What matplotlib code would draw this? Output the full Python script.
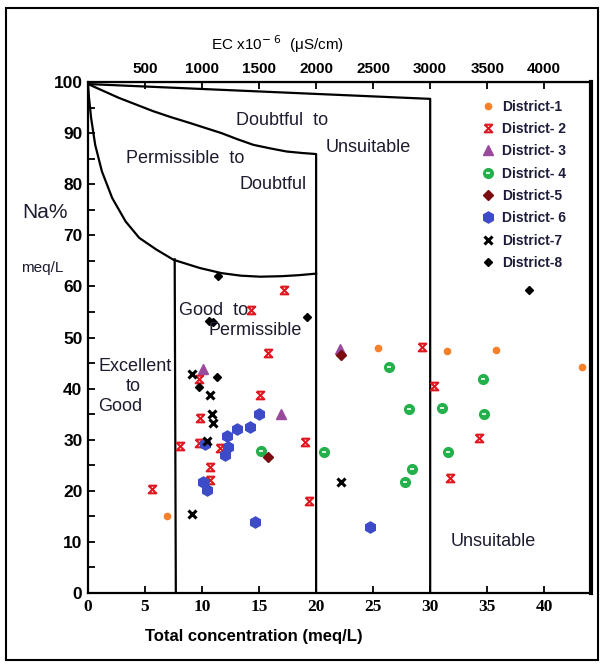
import matplotlib.pyplot as plt
from matplotlib.path import Path
from matplotlib.patches import Rectangle

# total concentration (meq/L) and Na% for each district
d1_x = [6.9, 25.4, 31.5, 35.8, 43.3]
d1_y = [15.0, 48.0, 47.4, 47.6, 44.3]
d2_x = [5.6, 17.2, 14.3, 15.8, 15.1, 9.7, 9.8, 8.1, 9.7, 11.6, 10.7, 10.7, 19.0, 19.4, 29.3, 30.3, 34.3, 31.7]
d2_y = [20.4, 59.2, 55.4, 46.9, 38.7, 41.8, 34.2, 28.8, 29.3, 28.3, 24.6, 22.1, 29.6, 18.1, 48.1, 40.6, 30.3, 22.6]
d3_x = [10.1, 16.9, 22.1]
d3_y = [43.8, 35.0, 47.8]
d4_x = [15.2, 20.7, 26.4, 28.1, 31.0, 34.6, 34.7, 31.6, 28.4, 27.8]
d4_y = [27.8, 27.5, 44.3, 36.1, 36.3, 41.9, 35.0, 27.5, 24.3, 21.7]
d5_x = [15.8, 22.2]
d5_y = [26.7, 46.6]
d6_x = [15.0, 14.2, 13.1, 12.2, 12.3, 12.0, 10.3, 10.1, 10.4, 14.6, 24.7]
d6_y = [35.0, 32.5, 32.0, 30.8, 28.6, 27.1, 29.1, 21.8, 20.2, 13.8, 12.9]
d7_x = [9.1, 10.7, 10.9, 11.0, 10.4, 9.1, 22.2]
d7_y = [42.8, 38.7, 35.0, 33.2, 29.7, 15.4, 21.7]
d8_x = [11.4, 10.6, 11.0, 19.2, 11.3, 9.7, 38.7]
d8_y = [62.0, 53.3, 53.0, 54.0, 42.3, 40.4, 59.3]

# Wilcox class boundaries
outer_x = [0, 30, 30]
outer_y = [99.6, 96.7, 0]
mid_x = [0, 1.2, 2.7, 4.2, 5.7, 7.3, 8.9, 10.3, 11.7, 13.1, 14.5, 16.0, 17.4, 18.8, 20, 20]
mid_y = [99.6, 98.4, 96.9, 95.6, 94.3, 93.1, 92.0, 91.0, 90.0, 88.8, 87.7, 87.0, 86.4, 86.1, 85.9, 0]
inner_x = [0, 0.09, 0.27, 0.63, 1.22, 2.12, 3.3, 4.49, 6.0, 7.5, 9.8, 11.7, 13.4, 15.1, 17.0, 18.5, 20]
inner_y = [99.6, 96.9, 93.0, 87.7, 82.5, 77.3, 72.7, 69.5, 67.2, 65.2, 63.6, 62.6, 62.1, 61.9, 62.0, 62.2, 62.5]
left_x = [7.6, 7.7]
left_y = [65.3, 0]

x_ticks = [0, 5, 10, 15, 20, 25, 30, 35, 40]
ec_ticks = [500, 1000, 1500, 2000, 2500, 3000, 3500, 4000]
y_ticks = [0, 10, 20, 30, 40, 50, 60, 70, 80, 90, 100]

fig = plt.figure(figsize=(6.03, 6.64), dpi=100)
ax = fig.add_axes([88 / 603, 1 - 593 / 664, 503 / 603, 511 / 664])
ax.set_xlim(0, 44.1)
ax.set_ylim(0, 100)

for xs, ys in [(outer_x, outer_y), (mid_x, mid_y), (inner_x, inner_y), (left_x, left_y)]:
    ax.plot(xs, ys, color="black", lw=1.6, zorder=2, solid_joinstyle="round")

hourglass = Path([(-1, 1), (1, 1), (-1, -1), (1, -1), (-1, 1)],
                 [Path.MOVETO, Path.LINETO, Path.LINETO, Path.LINETO, Path.LINETO])

h1, = ax.plot(d1_x, d1_y, "o", color="#f7802b", ms=4.5, ls="none", zorder=3)
h2, = ax.plot(d2_x, d2_y, marker=hourglass, color="#e0161e", mfc="none", mew=1.5, ms=5.5, ls="none", zorder=3)
h3, = ax.plot(d3_x, d3_y, "^", color="#9a4a9c", ms=6.5, ls="none", zorder=3)
h4a, = ax.plot(d4_x, d4_y, "o", color="#24b04b", ms=7, ls="none", zorder=3)
h4b, = ax.plot(d4_x, d4_y, "_", color="white", ms=3, mew=1.2, ls="none", zorder=4)
h5, = ax.plot(d5_x, d5_y, "D", color="#7b0c10", ms=5, ls="none", zorder=3)
h6, = ax.plot(d6_x, d6_y, "h", color="#3d4bc9", ms=8, ls="none", zorder=3)
h7, = ax.plot(d7_x, d7_y, "x", color="black", ms=6, mew=2.2, ls="none", zorder=3)
h8, = ax.plot(d8_x, d8_y, "D", color="black", ms=4.5, ls="none", zorder=3)

labels = ["District-1", "District- 2", "District- 3", "District- 4",
          "District-5", "District- 6", "District-7", "District-8"]
leg = ax.legend([h1, h2, h3, (h4a, h4b), h5, h6, h7, h8], labels,
                loc="upper right", bbox_to_anchor=(0.975, 0.99), frameon=False,
                prop={"family": "Liberation Sans", "weight": "bold", "size": 10},
                handlelength=1.0, handletextpad=0.5, labelspacing=0.6)
for t in leg.get_texts():
    t.set_color("#1c1c3a")

region_font = {"family": "Liberation Sans", "size": 13, "color": "#1c1c2e"}
ax.text(17.0, 92.4, "Doubtful  to", ha="center", va="center", **region_font)
ax.text(24.6, 87.1, "Unsuitable", ha="center", va="center", **region_font)
ax.text(8.5, 85.1, "Permissible  to", ha="center", va="center", **region_font)
ax.text(16.2, 80.0, "Doubtful", ha="center", va="center", **region_font)
ax.text(8.0, 55.2, "Good  to", ha="left", va="center", **region_font)
ax.text(14.7, 51.3, "Permissible", ha="center", va="center", **region_font)
ax.text(0.9, 44.4, "Excellent", ha="left", va="center", **region_font)
ax.text(4.0, 40.5, "to", ha="center", va="center", **region_font)
ax.text(0.9, 36.4, "Good", ha="left", va="center", **region_font)
ax.text(35.5, 10.0, "Unsuitable", ha="center", va="center", **region_font)

ax.set_xticks(x_ticks)
ax.set_xticklabels([str(v) for v in x_ticks], fontfamily="Liberation Serif", fontweight="bold", fontsize=12.5)
ax.set_yticks(y_ticks)
ax.set_yticks(range(5, 100, 10), minor=True)
ax.set_yticklabels([str(v) for v in y_ticks], fontfamily="Liberation Sans", fontweight="bold", fontsize=12.5)
ax.tick_params(axis="both", which="both", direction="in", length=5, width=1.3, pad=4)

for side in ["left", "bottom", "top"]:
    ax.spines[side].set_linewidth(1.6)
ax.spines["right"].set_linewidth(3)

sec = ax.secondary_xaxis("top", functions=(lambda x: x * 100, lambda e: e / 100))
sec.set_xticks(ec_ticks)
sec.set_xticklabels([str(v) for v in ec_ticks], fontfamily=["Liberation Sans Narrow", "Liberation Sans"],
                    fontweight="bold", fontsize=11)
sec.tick_params(direction="in", length=5, width=1.3, pad=4)

fig.text(278 / 603, 1 - 44 / 664, r"EC x10$^{-\ 6}$  ($\mathregular{\mu}$S/cm)", ha="center", va="center",
         family="Liberation Sans", fontsize=11)
fig.text(45 / 603, 1 - 212 / 664, "Na%", ha="center", va="center", family="Liberation Sans",
         fontsize=15, color="#1c1c2e")
fig.text(42 / 603, 1 - 268 / 664, "meq/L", ha="center", va="center", family="Liberation Sans",
         fontsize=11, color="#1c1c2e")
fig.text(254 / 603, 1 - 637 / 664, "Total concentration (meq/L)", ha="center", va="center",
         family="Liberation Sans", fontweight="bold", fontsize=12)

fig.patches.append(Rectangle((6 / 603, 4 / 664), 592 / 603, 652 / 664, transform=fig.transFigure,
                             fill=False, lw=1.5, color="black"))

fig.savefig("out.png", dpi=100)
